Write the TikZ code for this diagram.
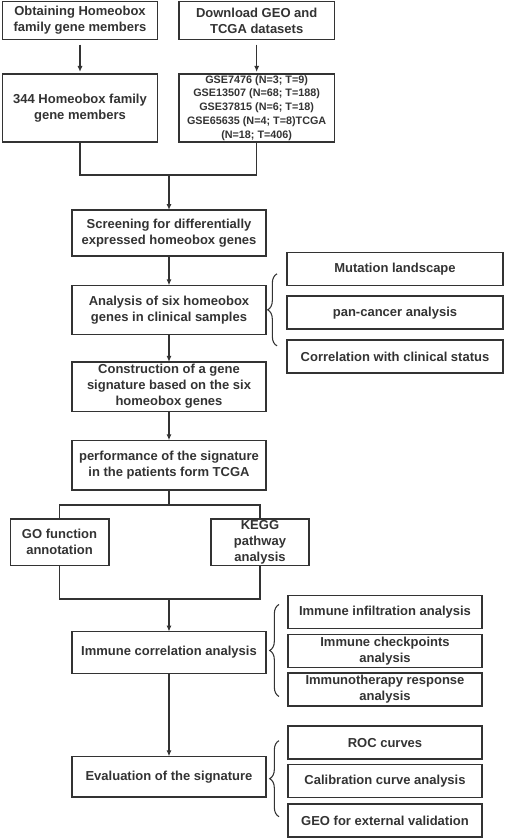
\documentclass[tikz,border=0pt]{standalone}
\usepackage{fontspec}
\setmainfont{Liberation Sans}
\usepackage{tikz}
\usetikzlibrary{positioning}
\usetikzlibrary{arrows.meta}
\usetikzlibrary{decorations.pathreplacing}
\definecolor{ink}{HTML}{333333}

\begin{document}
\begin{tikzpicture}[x=0.75pt, y=-0.75pt,
    main/.style = {draw=ink, line width=1pt, text=ink, align=center, inner sep=0pt, outer sep=0pt, font=\fontsize{9.75}{12}\selectfont\bfseries},
    side/.style = {main, minimum height=24.75pt},
    link/.style = {draw=ink, line width=0.9pt},
    arr/.style = {link, -{Latex[length=4.5pt, width=3.8pt]}},
    brace/.style = {draw=ink, line width=0.8pt, decorate, decoration={brace, amplitude=7pt}}]
    \useasboundingbox (0,0) rectangle (505,840);

    \node[main, minimum width=116.5pt, minimum height=28.2pt] (obt) at (80,20.5) {Obtaining Homeobox\\family gene members};
    \node[main, minimum width=116.5pt, minimum height=28.2pt] (dl) [right=16pt of obt] {Download GEO and\\TCGA datasets};
    \node[main, minimum width=116.5pt, minimum height=51pt] (hox) [below=26pt of obt] {344 Homeobox family\\gene members};
    \node[main, minimum width=116.5pt, minimum height=51pt, font=\fontsize{8.1}{10.4}\selectfont\bfseries] (geo) [below=26pt of dl] {GSE7476 (N=3; T=9)\\GSE13507 (N=68; T=188)\\GSE37815 (N=6; T=18)\\GSE65635 (N=4; T=8)TCGA\\(N=18; T=406)};

    \node[main, minimum width=145.5pt, minimum height=34.5pt] (scr) at (169,233) {Screening for differentially\\expressed homeobox genes};
    \node[main, minimum width=145.5pt, minimum height=36.75pt] (six) [below=22pt of scr] {Analysis of six homeobox\\genes in clinical samples};
    \node[main, minimum width=145.5pt, minimum height=37pt] (sig) [below=20.7pt of six] {Construction of a gene\\signature based on the six\\homeobox genes};
    \node[main, minimum width=145.5pt, minimum height=37.2pt] (perf) [below=21.75pt of sig] {performance of the signature\\in the patients form TCGA};
    \node[main, minimum width=74pt, minimum height=35pt] (go) [below=21.75pt of perf, xshift=-82.1pt] {GO function\\annotation};
    \node[main, minimum width=73.5pt, minimum height=35pt] (kegg) [below=21.75pt of perf, xshift=68.25pt] {KEGG\\pathway\\analysis};
    \node[main, minimum width=145.5pt, minimum height=31.3pt] (imm) [below=106.3pt of perf] {Immune correlation analysis};
    \node[main, minimum width=145.5pt, minimum height=30.5pt] (eval) [below=62.25pt of imm] {Evaluation of the signature};

    \node[side, minimum width=162pt] (pan) [right=15.75pt of six, yshift=-2.1pt] {pan-cancer analysis};
    \node[side, minimum width=162pt] (mut) [above=8pt of pan] {Mutation landscape};
    \node[side, minimum width=162pt] (clin) [below=8.25pt of pan] {Correlation with clinical status};

    \node[side, minimum width=145.5pt] (chk) [right=16.5pt of imm, yshift=1.3pt] {Immune checkpoints\\analysis};
    \node[side, minimum width=145.5pt] (inf) [above=4.5pt of chk] {Immune infiltration analysis};
    \node[side, minimum width=145.5pt] (thr) [below=4.25pt of chk] {Immunotherapy response\\analysis};

    \node[side, minimum width=145.5pt] (cal) [right=16.5pt of eval, yshift=-3.2pt] {Calibration curve analysis};
    \node[side, minimum width=145.5pt] (roc) [above=4pt of cal] {ROC curves};
    \node[side, minimum width=145.5pt] (ext) [below=5pt of cal] {GEO for external validation};

    \coordinate (m1) at (169,175);
    \coordinate (s1) at (169,505);
    \coordinate (j1) at (169,599);

    \draw[arr, shorten <=4pt, shorten >=1.5pt] (obt) -- (hox);
    \draw[arr, shorten <=4pt, shorten >=1.5pt] (dl) -- (geo);
    \draw[link] (hox.south) |- (m1);
    \draw[link] (geo.south) |- (m1);
    \draw[arr] (m1) -- (scr);
    \draw[arr] (scr) -- (six);
    \draw[arr] (six) -- (sig);
    \draw[arr] (sig) -- (perf);
    \draw[link] (perf.south) -- (s1) -| (go.north);
    \draw[link] (s1) -| (kegg.north);
    \draw[link] (go.south) |- (j1) -| (kegg.south);
    \draw[arr] (j1) -- (imm);
    \draw[arr] (imm) -- (eval);

    \draw[brace] ([shift={(11,36)}]six.east) -- ([shift={(11,-36)}]six.east);
    \draw[brace] ([shift={(13,44)}]imm.east) -- ([shift={(13,-48)}]imm.east);
    \draw[brace] ([shift={(13,40)}]eval.east) -- ([shift={(13,-36)}]eval.east);

\end{tikzpicture}
\end{document}
